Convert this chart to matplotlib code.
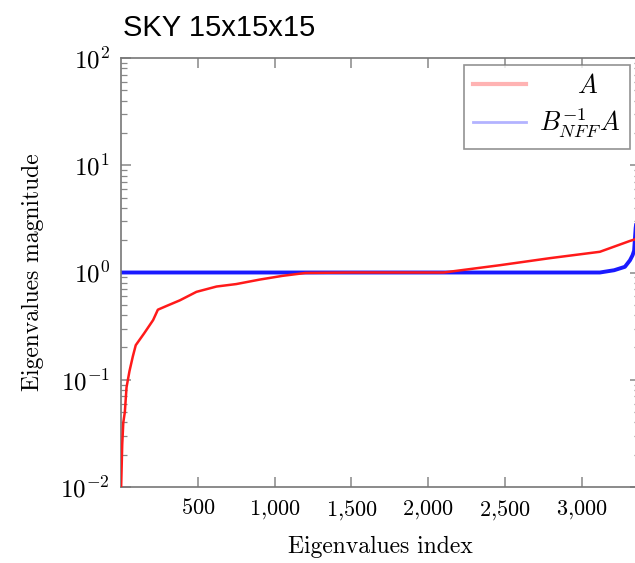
import math
import matplotlib
matplotlib.use("Agg")
import matplotlib.pyplot as plt
from matplotlib.lines import Line2D
from matplotlib.ticker import FixedLocator, FuncFormatter, NullFormatter

plt.rcParams['mathtext.fontset'] = 'cm'
plt.rcParams['font.family'] = ['cmr10', 'DejaVu Serif']
plt.rcParams['axes.formatter.use_mathtext'] = True

title = "SKY 15x15x15"
xlabel = "Eigenvalues index"
ylabel = "Eigenvalues magnitude"
labels = [r"$A$", r"$B_{NFF}^{-1}A$"]

red_idx = [1, 8, 15, 25, 36, 55, 77, 96, 150, 209, 240, 300, 383, 491, 622, 750,
           905, 1050, 1200, 1500, 2100, 2467, 2791, 3117, 3313, 3375]
red_val = [0.01, 0.025, 0.04, 0.05, 0.085, 0.12, 0.165, 0.21, 0.27, 0.36, 0.45, 0.49,
           0.55, 0.66, 0.74, 0.78, 0.86, 0.93, 0.99, 1.0, 1.0, 1.17, 1.36, 1.56, 1.97, 2.1]

blue_idx = [1, 1500, 3000, 3117, 3210, 3280, 3313, 3330, 3340, 3350, 3375]
blue_val = [1.0, 1.0, 1.0, 1.0, 1.05, 1.13, 1.3, 1.45, 1.6, 2.6, 5.0]

xticks = [500, 1000, 1500, 2000, 2500, 3000]
yticks = [1e-2, 1e-1, 1e0, 1e1, 1e2]
xmin, xmax = 0, 3375
ymin, ymax = 1e-2, 1e2

fig = plt.figure(figsize=(6.35, 5.63), dpi=100)
ax = fig.add_axes([121 / 635, 1 - 487 / 563, (639.5 - 121) / 635, (487 - 58) / 563])

ax.plot(red_idx, red_val, color='#ff1a1a', lw=1.8, zorder=3)
ax.plot(blue_idx, blue_val, color='#1a1aff', lw=2.8, zorder=2)

ax.set_yscale('log')
ax.set_xlim(xmin, xmax)
ax.set_ylim(ymin, ymax)

ax.xaxis.set_major_locator(FixedLocator(xticks))
ax.xaxis.set_major_formatter(FuncFormatter(lambda v, p: r"$\mathrm{" + f"{int(v):,}".replace(",", "{,}") + "}$"))
ax.yaxis.set_major_locator(FixedLocator(yticks))
ax.yaxis.set_major_formatter(FuncFormatter(lambda v, p: r"$10^{%d}$" % round(math.log10(v))))
minor = [m * 10.0 ** e for e in range(-2, 2) for m in range(2, 10)]
ax.yaxis.set_minor_locator(FixedLocator(minor))
ax.yaxis.set_minor_formatter(NullFormatter())

ax.tick_params(which='both', direction='in', top=True, right=True,
               color='#888888', pad=8)
ax.tick_params(axis='y', labelsize=18)
ax.tick_params(axis='x', labelsize=16)
ax.tick_params(which='major', length=7, width=1.1)
ax.tick_params(which='minor', length=4, width=0.9)
for s in ax.spines.values():
    s.set_color('#777777')
    s.set_linewidth(1.2)

ax.set_xlabel(xlabel, fontsize=17, labelpad=10)
ax.set_ylabel(ylabel, fontsize=17, labelpad=12)

fig.text(123 / 635, 1 - 36 / 563, title, fontsize=21, family='Liberation Sans',
         ha='left', va='baseline')

handles = [Line2D([], [], color='#ffb3b3', lw=3), Line2D([], [], color='#b3b3ff', lw=2)]
leg_labels = [r"$\quad\ \ A$", labels[1]]
leg = ax.legend(handles, leg_labels, loc='upper right',
                bbox_to_anchor=((630 - 121) / (639.5 - 121), 1 - 7 / 429),
                fontsize=19, frameon=True, fancybox=False, edgecolor='#777777',
                handlelength=2.0, borderpad=0.35, labelspacing=0.3, handletextpad=0.5,
                borderaxespad=0)
leg.get_frame().set_linewidth(1.2)

fig.savefig('out.png', dpi=100)
